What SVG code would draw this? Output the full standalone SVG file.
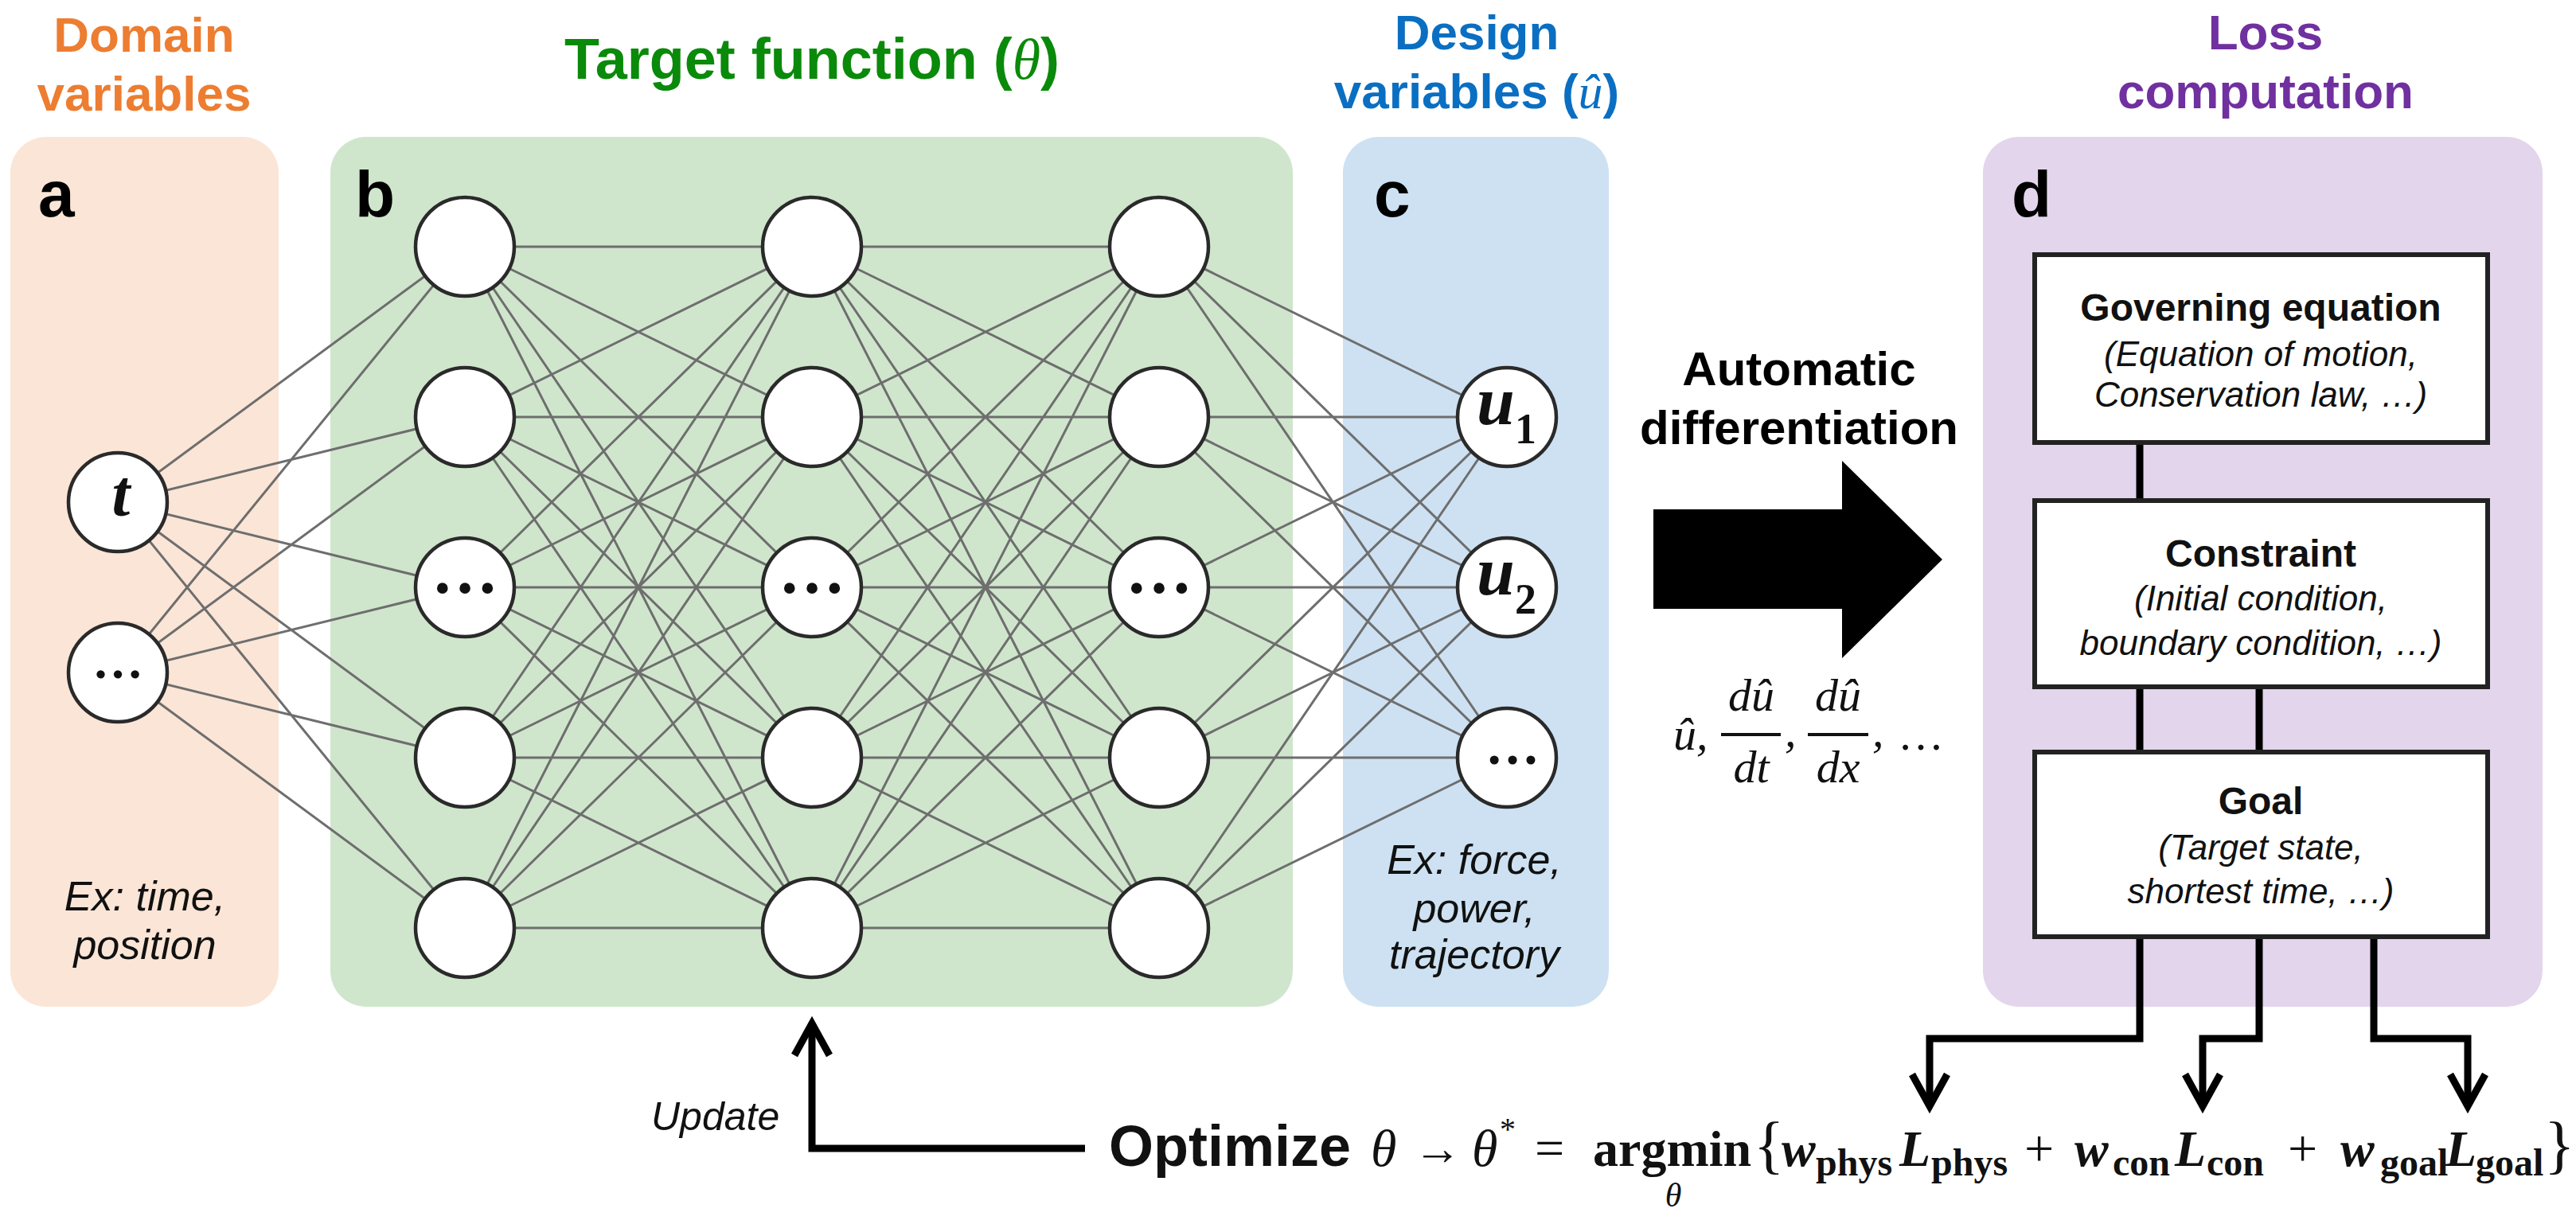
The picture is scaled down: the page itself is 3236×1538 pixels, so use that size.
<svg xmlns="http://www.w3.org/2000/svg" width="3236" height="1538" viewBox="0 0 3236 1538">
<style>
.sans{font-family:"Liberation Sans",Arial,sans-serif}
.serif{font-family:"Liberation Serif","Times New Roman",serif}
.ttl{font-family:"Liberation Sans",Arial,sans-serif;font-weight:bold;text-anchor:middle}
.lbl{font-family:"Liberation Sans",Arial,sans-serif;font-weight:bold;font-size:82px;fill:#000}
.ex{font-family:"Liberation Sans",Arial,sans-serif;font-style:italic;font-size:52px;text-anchor:middle;fill:#111}
.bt{font-family:"Liberation Sans",Arial,sans-serif;font-weight:bold;font-size:48px;text-anchor:middle;fill:#111}
.bi{font-family:"Liberation Sans",Arial,sans-serif;font-style:italic;font-size:44px;text-anchor:middle;fill:#111}
.edge{fill:none;stroke:#6e6e6e;stroke-width:3}
.nd{fill:#fff;stroke:#2a2a2a;stroke-width:4.5}
.box{fill:#fff;stroke:#222;stroke-width:6}
.conn{fill:none;stroke:#000;stroke-width:9}
.m{font-family:"Liberation Serif","Times New Roman",serif;font-style:italic;fill:#111}
.mb{font-family:"Liberation Serif","Times New Roman",serif;font-weight:bold;fill:#111}
.mbi{font-family:"Liberation Serif","Times New Roman",serif;font-weight:bold;font-style:italic;fill:#111}
</style>
<defs>
<marker id="ah" markerUnits="userSpaceOnUse" markerWidth="80" markerHeight="80" viewBox="-60 -40 80 80" refX="0" refY="0" orient="auto" overflow="visible">
<path d="M-40,-22 L0,0 L-40,22" fill="none" stroke="#000" stroke-width="9"/>
</marker>
</defs>
<rect width="3236" height="1538" fill="#fff"/>

<!-- titles -->
<g id="titles">
<text class="ttl" x="181" y="65" font-size="62" fill="#ED7D31">Domain</text>
<text class="ttl" x="181" y="139" font-size="62" fill="#ED7D31">variables</text>
<text class="ttl" x="1020" y="99" font-size="72" fill="#0A8A0A">Target function (<tspan class="serif" font-style="italic" font-weight="normal">θ</tspan>)</text>
<text class="ttl" x="1855" y="62" font-size="62" fill="#0A6FC2">Design</text>
<text class="ttl" x="1855" y="136" font-size="62" fill="#0A6FC2">variables (<tspan class="serif" font-style="italic" font-weight="normal">û</tspan>)</text>
<text class="ttl" x="2846" y="62" font-size="62" fill="#7030A0">Loss</text>
<text class="ttl" x="2846" y="136" font-size="62" fill="#7030A0">computation</text>
</g>

<!-- panels -->
<g id="panels">
<rect id="panel-a" x="13" y="172" width="337" height="1093" rx="45" fill="#FBE5D6"/>
<rect id="panel-b" x="415" y="172" width="1209" height="1093" rx="45" fill="#CFE6CC"/>
<rect id="panel-c" x="1687" y="172" width="334" height="1093" rx="45" fill="#CDE1F2"/>
<rect id="panel-d" x="2491" y="172" width="703" height="1093" rx="45" fill="#E3D5EC"/>
<text class="lbl" x="48" y="272">a</text>
<text class="lbl" x="446" y="272">b</text>
<text class="lbl" x="1726" y="272">c</text>
<text class="lbl" x="2527" y="272">d</text>
<text class="ex" x="182" y="1144">Ex: time,</text>
<text class="ex" x="182" y="1205">position</text>
<text class="ex" x="1852" y="1098">Ex: force,</text>
<text class="ex" x="1852" y="1159">power,</text>
<text class="ex" x="1852" y="1217">trajectory</text>
</g>

<!-- connectors -->
<g id="connectors">
<path class="edge" d="M148 631L584 310M148 631L584 524M148 631L584 738M148 631L584 952M148 631L584 1166M148 845L584 310M148 845L584 524M148 845L584 738M148 845L584 952M148 845L584 1166"/>
<path class="edge" d="M584 310L1020 310M584 310L1020 524M584 310L1020 738M584 310L1020 952M584 310L1020 1166M584 524L1020 310M584 524L1020 524M584 524L1020 738M584 524L1020 952M584 524L1020 1166M584 738L1020 310M584 738L1020 524M584 738L1020 738M584 738L1020 952M584 738L1020 1166M584 952L1020 310M584 952L1020 524M584 952L1020 738M584 952L1020 952M584 952L1020 1166M584 1166L1020 310M584 1166L1020 524M584 1166L1020 738M584 1166L1020 952M584 1166L1020 1166"/>
<path class="edge" d="M1020 310L1456 310M1020 310L1456 524M1020 310L1456 738M1020 310L1456 952M1020 310L1456 1166M1020 524L1456 310M1020 524L1456 524M1020 524L1456 738M1020 524L1456 952M1020 524L1456 1166M1020 738L1456 310M1020 738L1456 524M1020 738L1456 738M1020 738L1456 952M1020 738L1456 1166M1020 952L1456 310M1020 952L1456 524M1020 952L1456 738M1020 952L1456 952M1020 952L1456 1166M1020 1166L1456 310M1020 1166L1456 524M1020 1166L1456 738M1020 1166L1456 952M1020 1166L1456 1166"/>
<path class="edge" d="M1456 310L1893 524M1456 310L1893 738M1456 310L1893 952M1456 524L1893 524M1456 524L1893 738M1456 524L1893 952M1456 738L1893 524M1456 738L1893 738M1456 738L1893 952M1456 952L1893 524M1456 952L1893 738M1456 952L1893 952M1456 1166L1893 524M1456 1166L1893 738M1456 1166L1893 952"/>
<!-- box links -->
<path class="conn" stroke-width="7" d="M2688 556V629M2688 863V945M2838 863V945"/>
<!-- loss arrows -->
<path class="conn" d="M2688 1177V1305H2424V1390" marker-end="url(#ah)"/>
<path class="conn" d="M2838 1177V1305H2767V1390" marker-end="url(#ah)"/>
<path class="conn" d="M2982 1177V1305H3100V1390" marker-end="url(#ah)"/>
<!-- update arrow -->
<path class="conn" d="M1363 1443H1020V1286" marker-end="url(#ah)"/>
<!-- big arrow -->
<polygon points="2077,640 2314,640 2314,579 2440,703 2314,827 2314,765 2077,765" fill="#000"/>
</g>

<!-- nodes -->
<g id="input-nodes">
<g id="in-t"><circle class="nd" cx="148" cy="631" r="62"/><text class="mbi" x="152" y="648" font-size="82" text-anchor="middle">t</text></g>
<g id="in-dots"><circle class="nd" cx="148" cy="845" r="62"/><text class="mb" x="148" y="852" font-size="64" text-anchor="middle">…</text></g>
</g>
<g id="hidden-1">
<circle class="nd" cx="584" cy="310" r="62"/>
<circle class="nd" cx="584" cy="524" r="62"/>
<circle class="nd" cx="584" cy="738" r="62"/><text class="mb" x="584" y="745" font-size="84" text-anchor="middle">…</text>
<circle class="nd" cx="584" cy="952" r="62"/>
<circle class="nd" cx="584" cy="1166" r="62"/>
</g>
<g id="hidden-2">
<circle class="nd" cx="1020" cy="310" r="62"/>
<circle class="nd" cx="1020" cy="524" r="62"/>
<circle class="nd" cx="1020" cy="738" r="62"/><text class="mb" x="1020" y="745" font-size="84" text-anchor="middle">…</text>
<circle class="nd" cx="1020" cy="952" r="62"/>
<circle class="nd" cx="1020" cy="1166" r="62"/>
</g>
<g id="hidden-3">
<circle class="nd" cx="1456" cy="310" r="62"/>
<circle class="nd" cx="1456" cy="524" r="62"/>
<circle class="nd" cx="1456" cy="738" r="62"/><text class="mb" x="1456" y="745" font-size="84" text-anchor="middle">…</text>
<circle class="nd" cx="1456" cy="952" r="62"/>
<circle class="nd" cx="1456" cy="1166" r="62"/>
</g>
<g id="output-nodes">
<g id="out-u1"><circle class="nd" cx="1893" cy="524" r="62"/><text class="mbi" x="1855" y="533" font-size="86">u</text><text class="mb" x="1903" y="557" font-size="54">1</text></g>
<g id="out-u2"><circle class="nd" cx="1893" cy="738" r="62"/><text class="mbi" x="1855" y="747" font-size="86">u</text><text class="mb" x="1903" y="771" font-size="54">2</text></g>
<g id="out-dots"><circle class="nd" cx="1893" cy="952" r="62"/><text class="mb" x="1900" y="960" font-size="68" text-anchor="middle">…</text></g>
</g>

<!-- automatic differentiation -->
<g id="autodiff">
<text class="ttl" x="2260" y="484" font-size="60" fill="#000">Automatic</text>
<text class="ttl" x="2260" y="558" font-size="60" fill="#000">differentiation</text>
<text class="m" x="2102" y="942" font-size="58">û,</text>
<text class="m" x="2200" y="893" font-size="58" text-anchor="middle">dû</text>
<line x1="2162" y1="923" x2="2237" y2="923" stroke="#111" stroke-width="4"/>
<text class="m" x="2200" y="983" font-size="58" text-anchor="middle">dt</text>
<text class="m" x="2242" y="938" font-size="58">,</text>
<text class="m" x="2309" y="893" font-size="58" text-anchor="middle">dû</text>
<line x1="2271" y1="923" x2="2347" y2="923" stroke="#111" stroke-width="4"/>
<text class="m" x="2309" y="983" font-size="58" text-anchor="middle">dx</text>
<text class="m" x="2352" y="938" font-size="58">,</text>
<text class="serif" x="2384" y="942" font-size="58" fill="#111">…</text>
</g>

<!-- loss boxes -->
<g id="box-governing">
<rect class="box" x="2556" y="320" width="569" height="236"/>
<text class="bt" x="2840" y="403">Governing equation</text>
<text class="bi" x="2840" y="460">(Equation of motion,</text>
<text class="bi" x="2840" y="511">Conservation law, …)</text>
</g>
<g id="box-constraint">
<rect class="box" x="2556" y="629" width="569" height="234"/>
<text class="bt" x="2840" y="712">Constraint</text>
<text class="bi" x="2840" y="767">(Initial condition,</text>
<text class="bi" x="2840" y="823">boundary condition, …)</text>
</g>
<g id="box-goal">
<rect class="box" x="2556" y="945" width="569" height="232"/>
<text class="bt" x="2840" y="1023">Goal</text>
<text class="bi" x="2840" y="1080">(Target state,</text>
<text class="bi" x="2840" y="1135">shortest time, …)</text>
</g>

<!-- bottom formula -->
<g id="formula">
<text class="sans" x="818" y="1420" font-size="50" font-style="italic" fill="#111">Update</text>
<text class="sans" x="1393" y="1465" font-size="72" font-weight="bold" fill="#111">Optimize</text>
<text class="m" x="1722" y="1465" font-size="66">θ</text>
<text class="serif" x="1776" y="1463" font-size="60" fill="#111">→</text>
<text class="m" x="1849" y="1465" font-size="66">θ</text>
<text class="serif" x="1884" y="1432" font-size="40" fill="#111">*</text>
<text class="serif" x="1928" y="1465" font-size="66" fill="#111">=</text>
<text class="mb" x="2001" y="1465" font-size="64">argmin</text>
<text class="m" x="2102" y="1516" font-size="42" text-anchor="middle">θ</text>
<text class="serif" x="2203" y="1465" font-size="80" fill="#111">{</text>
<text class="mbi" x="2238" y="1465" font-size="64">w</text>
<text class="mb" x="2281" y="1477" font-size="48">phys</text>
<text class="mbi" x="2386" y="1465" font-size="64">L</text>
<text class="mb" x="2426" y="1477" font-size="48">phys</text>
<text class="serif" x="2543" y="1465" font-size="66" fill="#111">+</text>
<text class="mbi" x="2606" y="1465" font-size="64">w</text>
<text class="mb" x="2654" y="1477" font-size="48">con</text>
<text class="mbi" x="2732" y="1465" font-size="64">L</text>
<text class="mb" x="2772" y="1477" font-size="48">con</text>
<text class="serif" x="2874" y="1465" font-size="66" fill="#111">+</text>
<text class="mbi" x="2940" y="1465" font-size="64">w</text>
<text class="mb" x="2990" y="1477" font-size="48">goal</text>
<text class="mbi" x="3072" y="1465" font-size="64">L</text>
<text class="mb" x="3110" y="1477" font-size="48">goal</text>
<text class="serif" x="3196" y="1465" font-size="80" fill="#111">}</text>
</g>
</svg>
